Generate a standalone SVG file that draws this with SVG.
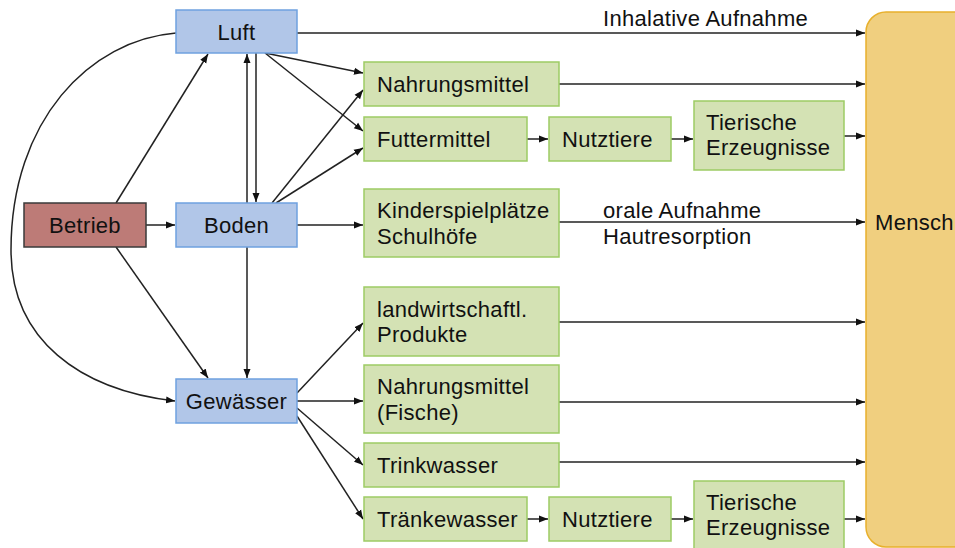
<svg xmlns="http://www.w3.org/2000/svg" width="955" height="548" viewBox="0 0 955 548">
<defs>
<marker id="ah" markerWidth="10" markerHeight="8" refX="9" refY="4" orient="auto" markerUnits="userSpaceOnUse">
<path d="M0,0.5 L9,4 L0,7.5 Z" fill="#111"/>
</marker>
<style>
text{font-family:"Liberation Sans",Arial,sans-serif;font-size:22px;letter-spacing:0.3px;fill:#111}
.b rect{fill:#b1c6e8;stroke:#6fa1df;stroke-width:1.5}
.g rect{fill:#d4e2b4;stroke:#9dcb64;stroke-width:1.5}
.c{text-anchor:middle}
#conn path,#conn line{stroke:#222;stroke-width:1.5;fill:none;marker-end:url(#ah)}
</style>
</defs>
<rect width="955" height="548" fill="#fff"/>
<g id="mensch"><rect x="866" y="12" width="130" height="535" rx="20" fill="#f0cf7f" stroke="#e8b02c" stroke-width="1.5"/><text x="875" y="230">Mensch</text></g>
<g id="conn">
<path d="M176,33 C90,40 11,120 11,250 C11,340 80,390 175,401"/>
<line x1="116" y1="203" x2="208" y2="54"/>
<line x1="146" y1="225" x2="175" y2="225"/>
<line x1="116" y1="247" x2="208" y2="378"/>
<line x1="247" y1="203" x2="247" y2="54"/>
<line x1="256" y1="53" x2="256" y2="202"/>
<line x1="265" y1="53" x2="363" y2="73"/>
<line x1="265" y1="53" x2="363" y2="131"/>
<line x1="272" y1="203" x2="363" y2="90"/>
<line x1="276" y1="203" x2="363" y2="148"/>
<line x1="297" y1="225" x2="363" y2="225"/>
<line x1="247" y1="247" x2="247" y2="378"/>
<line x1="297" y1="393" x2="363" y2="323"/>
<line x1="297" y1="401" x2="363" y2="401"/>
<line x1="297" y1="408" x2="363" y2="465"/>
<line x1="297" y1="416" x2="363" y2="519"/>
<line x1="297" y1="33" x2="865" y2="33"/>
<line x1="559" y1="84" x2="865" y2="84"/>
<line x1="527" y1="139" x2="548" y2="139"/>
<line x1="671" y1="139" x2="693" y2="139"/>
<line x1="844" y1="136" x2="865" y2="136"/>
<line x1="559" y1="222" x2="865" y2="222"/>
<line x1="559" y1="322" x2="865" y2="322"/>
<line x1="559" y1="402" x2="865" y2="402"/>
<line x1="559" y1="462" x2="865" y2="462"/>
<line x1="527" y1="519" x2="548" y2="519"/>
<line x1="671" y1="519" x2="693" y2="519"/>
<line x1="844" y1="519" x2="865" y2="519"/>
</g>
<text x="603" y="26">Inhalative Aufnahme</text>
<text x="603" y="218">orale Aufnahme</text>
<text x="603" y="244">Hautresorption</text>
<g id="betrieb"><rect x="24" y="203" width="122" height="44" fill="#bd7b77" stroke="#3a3a3a" stroke-width="1.5"/><text class="c" x="85" y="233">Betrieb</text></g>
<g id="luft" class="b"><rect x="176" y="10" width="121" height="43"/><text class="c" x="236.5" y="40">Luft</text></g>
<g id="boden" class="b"><rect x="176" y="203" width="121" height="44"/><text class="c" x="236.5" y="233">Boden</text></g>
<g id="gewaesser" class="b"><rect x="176" y="379" width="121" height="44"/><text class="c" x="236.5" y="409">Gewässer</text></g>
<g id="nahrung" class="g"><rect x="364" y="62" width="195" height="44"/><text x="377" y="92">Nahrungsmittel</text></g>
<g id="futter" class="g"><rect x="364" y="117" width="163" height="44"/><text x="377" y="147">Futtermittel</text></g>
<g id="nutz1" class="g"><rect x="549" y="117" width="122" height="44"/><text x="562" y="147">Nutztiere</text></g>
<g id="tier1" class="g"><rect x="694" y="101" width="150" height="69"/><text x="706" y="130">Tierische</text><text x="706" y="155">Erzeugnisse</text></g>
<g id="kinder" class="g"><rect x="364" y="189" width="195" height="68"/><text x="377" y="218">Kinderspielplätze</text><text x="377" y="244">Schulhöfe</text></g>
<g id="landw" class="g"><rect x="364" y="287" width="195" height="69"/><text x="377" y="317">landwirtschaftl.</text><text x="377" y="342">Produkte</text></g>
<g id="fische" class="g"><rect x="364" y="365" width="195" height="68"/><text x="377" y="394">Nahrungsmittel</text><text x="377" y="420">(Fische)</text></g>
<g id="trink" class="g"><rect x="364" y="443" width="195" height="44"/><text x="377" y="473">Trinkwasser</text></g>
<g id="traenke" class="g"><rect x="364" y="497" width="163" height="44"/><text x="377" y="527">Tränkewasser</text></g>
<g id="nutz2" class="g"><rect x="549" y="497" width="122" height="44"/><text x="562" y="527">Nutztiere</text></g>
<g id="tier2" class="g"><rect x="694" y="481" width="150" height="69"/><text x="706" y="510">Tierische</text><text x="706" y="535">Erzeugnisse</text></g>
</svg>
